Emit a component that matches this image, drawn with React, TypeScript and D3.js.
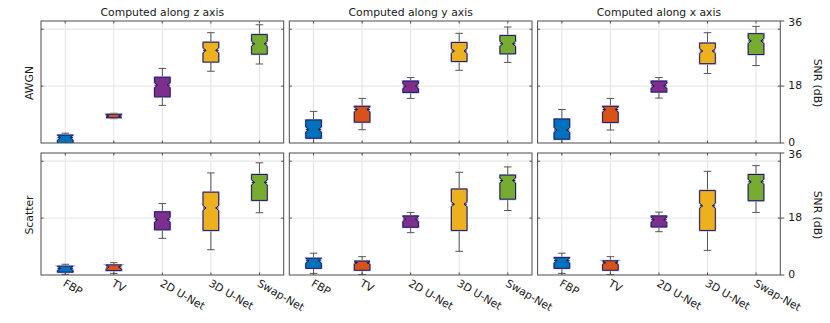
import React from "react";
import * as d3 from "d3";

const categories = ["FBP", "TV", "2D U-Net", "3D U-Net", "Swap-Net"];
const colors = ["#0072BD", "#D95319", "#7E2F8E", "#EDB120", "#77AC30"];
const panelTitles = ["Computed along z axis", "Computed along y axis", "Computed along x axis"];
const rowLabels = ["AWGN", "Scatter"];
const rightTicks = [0, 18, 36];

// [lower whisker, q1, median, q3, upper whisker]
const awgnZ = [
  [-1, -0.5, 1.7, 2.5, 3.1],
  [7.7, 8.0, 8.5, 9.1, 9.4],
  [11.9, 14.6, 18.3, 20.8, 23.6],
  [22.7, 25.6, 29.3, 31.9, 34.9],
  [25.0, 28.1, 31.4, 34.3, 37.4],
];
const awgnY = [
  [-0.5, 1.5, 4.3, 7.3, 10.0],
  [4.2, 6.6, 10.6, 11.6, 14.1],
  [14.1, 16.0, 18.0, 19.6, 20.7],
  [23.0, 25.8, 29.1, 31.8, 34.7],
  [25.5, 28.2, 31.4, 34.0, 36.7],
];
const awgnX = [
  [-0.5, 1.2, 4.1, 7.6, 10.6],
  [4.1, 6.5, 10.6, 11.6, 14.1],
  [14.2, 16.1, 18.1, 19.6, 20.7],
  [22.0, 25.1, 29.1, 31.6, 34.9],
  [24.5, 28.0, 32.3, 34.6, 36.9],
];
const scatterZ = [
  [0.2, 0.9, 2.1, 2.8, 3.4],
  [0.5, 1.4, 2.5, 3.2, 3.9],
  [11.6, 14.3, 17.5, 20.0, 22.6],
  [8.0, 14.1, 21.2, 26.2, 32.3],
  [19.7, 23.6, 29.3, 31.8, 35.5],
];
const scatterY = [
  [0.5, 2.1, 4.5, 5.3, 6.9],
  [0.1, 1.5, 3.9, 4.4, 5.8],
  [13.4, 15.1, 17.7, 18.7, 19.8],
  [7.5, 14.1, 22.4, 27.2, 32.5],
  [20.4, 24.0, 29.9, 31.6, 34.2],
];
const scatterX = [
  [0.5, 2.1, 4.6, 5.5, 6.9],
  [0.1, 1.5, 3.9, 4.5, 5.8],
  [13.7, 15.2, 17.5, 18.7, 19.9],
  [7.8, 14.1, 21.9, 26.7, 32.8],
  [19.8, 23.5, 29.5, 31.8, 34.6],
];

const rows = [
  [awgnZ, awgnY, awgnX],
  [scatterZ, scatterY, scatterX],
];

const FONT = "DejaVu Sans, sans-serif";
const FS = 10.8;
const W = 830;
const H = 323;
const panelLeft = 41;
const panelW = 242.7;
const panelGap = 5.6;
const rowTop = [21, 153];
const panelH = 122;
const yMax = 38.6;

function Panel({ data, px, py, showX, clipId }) {
  const x = d3.scalePoint().domain(categories).range([px, px + panelW]).padding(0.5);
  const y = d3.scaleLinear().domain([0, yMax]).range([py + panelH, py]);
  const halfW = 7.8;
  const capW = 3.8;
  const notchIn = 3.0;
  const gridY = [18, 36];
  const axisColor = "#4d4d4d";
  return (
    <g>
      <defs>
        <clipPath id={clipId}>
          <rect x={px} y={py} width={panelW} height={panelH} />
        </clipPath>
      </defs>
      <rect x={px} y={py} width={panelW} height={panelH} fill="#fff" />
      {categories.map((c) => (
        <line key={"gx" + c} x1={x(c)} x2={x(c)} y1={py} y2={py + panelH} stroke="#e3e3e3" strokeWidth={1} />
      ))}
      {gridY.map((v) => (
        <line key={"gy" + v} x1={px} x2={px + panelW} y1={y(v)} y2={y(v)} stroke={v === 36 ? "#ececec" : "#e3e3e3"} strokeWidth={v === 36 ? 1.8 : 1} />
      ))}
      <g clipPath={`url(#${clipId})`}>
        {data.map((d, i) => {
          const cx = x(categories[i]);
          const [lo, q1, med, q3, hi] = d;
          const yq1 = y(q1), yq3 = y(q3), ym = y(med);
          const nh = Math.min(2.5, Math.abs(ym - yq3), Math.abs(yq1 - ym));
          const path = d3.path();
          path.moveTo(cx - halfW, yq3);
          path.lineTo(cx + halfW, yq3);
          path.lineTo(cx + halfW, ym - nh);
          path.lineTo(cx + halfW - notchIn, ym);
          path.lineTo(cx + halfW, ym + nh);
          path.lineTo(cx + halfW, yq1);
          path.lineTo(cx - halfW, yq1);
          path.lineTo(cx - halfW, ym + nh);
          path.lineTo(cx - halfW + notchIn, ym);
          path.lineTo(cx - halfW, ym - nh);
          path.closePath();
          return (
            <g key={i}>
              <line x1={cx} x2={cx} y1={y(hi)} y2={yq3} stroke="#555" strokeWidth={1} />
              <line x1={cx} x2={cx} y1={yq1} y2={y(lo)} stroke="#555" strokeWidth={1} />
              <line x1={cx - capW} x2={cx + capW} y1={y(hi)} y2={y(hi)} stroke="#555" strokeWidth={1} />
              <line x1={cx - capW} x2={cx + capW} y1={y(lo)} y2={y(lo)} stroke="#555" strokeWidth={1} />
              <path d={path.toString()} fill={colors[i]} stroke="#aeaee8" strokeWidth={2} />
              <path d={path.toString()} fill={colors[i]} stroke="#1c1c5e" strokeWidth={1} />
              <line x1={cx - halfW} x2={cx - halfW + notchIn} y1={ym} y2={ym} stroke="#1c1c3e" strokeWidth={1} />
              <line x1={cx + halfW - notchIn} x2={cx + halfW} y1={ym} y2={ym} stroke="#1c1c3e" strokeWidth={1} />
            </g>
          );
        })}
      </g>
      {categories.map((c) => (
        <g key={"tx" + c}>
          <line x1={x(c)} x2={x(c)} y1={py} y2={py + 2.5} stroke={axisColor} />
          <line x1={x(c)} x2={x(c)} y1={py + panelH} y2={py + panelH - 2.5} stroke={axisColor} />
        </g>
      ))}
      {gridY.map((v) => (
        <g key={"ty" + v}>
          <line x1={px} x2={px + 2.5} y1={y(v)} y2={y(v)} stroke={axisColor} />
          <line x1={px + panelW} x2={px + panelW - 2.5} y1={y(v)} y2={y(v)} stroke={axisColor} />
        </g>
      ))}
      <rect x={px} y={py} width={panelW} height={panelH} fill="none" stroke={axisColor} strokeWidth={1} />
      {showX &&
        categories.map((c) => (
          <text
            key={"xl" + c}
            transform={`translate(${x(c) + 1},${py + panelH + 3.5}) rotate(30)`}
            fontSize={FS}
            fontFamily={FONT}
            fill="#1a1a1a"
            dominantBaseline="hanging"
            textAnchor="start"
          >
            {c}
          </text>
        ))}
    </g>
  );
}

export default function App() {
  return (
    <svg width={W} height={H} style={{ position: "absolute", left: 0, top: 0, background: "#fff" }}>
      <rect x={0} y={0} width={W} height={H} fill="#fff" />
      {panelTitles.map((t, j) => (
        <text
          key={t}
          x={panelLeft + j * (panelW + panelGap) + panelW / 2}
          y={13}
          textAnchor="middle"
          dominantBaseline="middle"
          fontSize={FS}
          fontFamily={FONT}
          fill="#1a1a1a"
        >
          {t}
        </text>
      ))}
      {rows.map((r, i) =>
        r.map((data, j) => (
          <Panel
            key={`${i}-${j}`}
            data={data}
            px={panelLeft + j * (panelW + panelGap)}
            py={rowTop[i]}
            showX={i === 1}
            clipId={`clip-${i}-${j}`}
          />
        ))
      )}
      {rowLabels.map((l, i) => {
        const rx = panelLeft + 3 * panelW + 2 * panelGap;
        const yl = d3.scaleLinear().domain([0, yMax]).range([rowTop[i] + panelH, rowTop[i]]);
        const yr = d3.scaleLinear().domain(rightTicks).range([yl(0), yl(18), rowTop[i]]);
        const cy = rowTop[i] + panelH / 2 + 1;
        return (
          <g key={l}>
            <text
              transform={`translate(30,${cy}) rotate(-90)`}
              textAnchor="middle"
              dominantBaseline="middle"
              fontSize={FS}
              fontFamily={FONT}
              fill="#1a1a1a"
            >
              {l}
            </text>
            {rightTicks.map((v) => (
              <g key={v}>
                <line x1={rx} x2={rx + 4} y1={yr(v)} y2={yr(v)} stroke="#4d4d4d" />
                <text
                  x={rx + 8}
                  y={v === 36 ? yr(v) + 1.5 : yr(v)}
                  dominantBaseline="middle"
                  fontSize={FS}
                  fontFamily={FONT}
                  fill="#1a1a1a"
                >
                  {v}
                </text>
              </g>
            ))}
            <text
              transform={`translate(817,${cy}) rotate(90)`}
              textAnchor="middle"
              dominantBaseline="middle"
              fontSize={FS}
              fontFamily={FONT}
              fill="#1a1a1a"
            >
              SNR (dB)
            </text>
          </g>
        );
      })}
    </svg>
  );
}
